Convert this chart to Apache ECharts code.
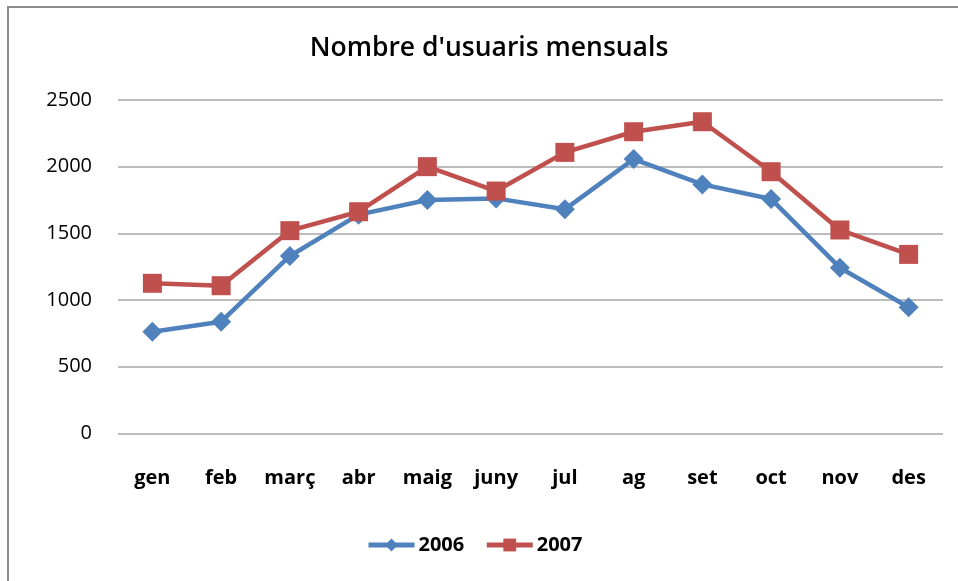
<!DOCTYPE html>
<html>
<head>
<meta charset="utf-8">
<script src="https://cdn.jsdelivr.net/npm/echarts@6/dist/echarts.min.js"></script>
<style>
html,body{margin:0;padding:0;background:#fff;}
#chart{width:958px;height:581px;}
</style>
</head>
<body>
<div id="chart"></div>
<script>
const months = ['gen','feb','març','abr','maig','juny','jul','ag','set','oct','nov','des'];
const users2006 = [762, 837, 1330, 1640, 1750, 1762, 1680, 2057, 1867, 1757, 1242, 945];
const users2007 = [1125, 1107, 1520, 1662, 2000, 1817, 2107, 2262, 2337, 1962, 1525, 1342];
const yTicks = [0, 500, 1000, 1500, 2000, 2500];
const titleText = "Nombre d'usuaris mensuals";

const FONT = '"Open Sans", "DejaVu Sans", sans-serif';
const chart = echarts.init(document.getElementById('chart'), null, {renderer: 'canvas'});
chart.setOption({
  backgroundColor: '#ffffff',
  animation: false,
  graphic: [
    {type: 'rect', shape: {x: 8, y: 7, width: 1200, height: 1200},
     style: {fill: 'none', stroke: '#8c8c8c', lineWidth: 2}, silent: true},
    {type: 'text', x: 489, y: 48,
     style: {text: titleText, fill: '#000', font: '600 26.5px ' + FONT,
             textAlign: 'center', textVerticalAlign: 'middle'}}
  ],
  legend: {
    data: ['2006', '2007'],
    left: 366, top: 535, padding: 0,
    itemWidth: 46, itemHeight: 16, itemGap: 20,
    lineStyle: {width: 5},
    textStyle: {fontFamily: FONT, fontSize: 20, fontWeight: 'bold', color: '#000', padding: [0,0,0,-1]}
  },
  grid: {left: 118, right: 15, top: 100, bottom: 147.7, containLabel: false},
  xAxis: {
    type: 'category', data: months, boundaryGap: true,
    axisLine: {show: false}, axisTick: {show: false},
    axisLabel: {fontFamily: FONT, fontSize: 20, fontWeight: 'bold', color: '#000', margin: 35, interval: 0}
  },
  yAxis: {
    type: 'value', min: yTicks[0], max: yTicks[yTicks.length-1], interval: 500,
    axisLine: {show: false}, axisTick: {show: false},
    axisLabel: {fontFamily: FONT, fontSize: 20, color: '#000', margin: 26,
                formatter: function (v) { return String(v); }},
    splitLine: {lineStyle: {color: '#a6a6a6', width: 1.5}}
  },
  series: [
    {name: '2006', type: 'line', data: users2006,
     symbol: 'diamond', symbolSize: 20,
     lineStyle: {color: '#4F81BD', width: 4.5},
     itemStyle: {color: '#4F81BD'}},
    {name: '2007', type: 'line', data: users2007,
     symbol: 'rect', symbolSize: 19,
     lineStyle: {color: '#C0504D', width: 4.5},
     itemStyle: {color: '#C0504D'}}
  ]
});
</script>
</body>
</html>
